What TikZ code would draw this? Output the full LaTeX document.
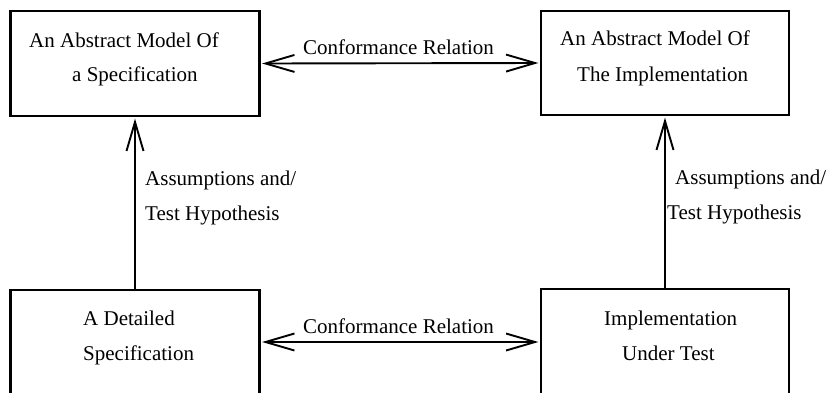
\documentclass[tikz,border=0pt]{standalone}
\usepackage{fontspec}
\setmainfont{Liberation Serif}
\usetikzlibrary{arrows.meta}
\begin{document}
\begin{tikzpicture}[x=1pt,y=-1pt,
  box/.style={draw=black,line width=2.2pt,rectangle,inner sep=0pt},
  txt/.style={anchor=base west,inner sep=0pt,font=\fontsize{21}{25}\selectfont},
  barb/.tip={Straight Barb[length=29pt,width=17pt,line width=1.9pt]},
  rel/.style={line width=1.9pt,shorten <=1.5pt,shorten >=1.5pt,barb-barb},
  up/.style={line width=1.9pt,shorten >=1.5pt,-barb}]
  \clip (0,0) rectangle (829,392);
  \fill[white] (0,0) rectangle (829,392);

  % boxes
  \node[box,minimum width=249pt,minimum height=105pt] (tl) at (135,63.5) {};
  \node[box,minimum width=248pt,minimum height=104pt] (tr) at (665,63) {};
  \node[box,minimum width=249pt,minimum height=104pt] (bl) at (135,342) {};
  \node[box,minimum width=248pt,minimum height=106pt] (br) at (665,342) {};

  % box texts
  \node[txt] (tl1) at (29,47) {An Abstract Model Of};
  \node[txt] (tl2) at (72,81) {a Specification};
  \node[txt] (tr1) at (560,45) {An Abstract Model Of};
  \node[txt] (tr2) at (577,81) {The Implementation};
  \node[txt] (bl1) at (83,325) {A Detailed};
  \node[txt] (bl2) at (83,360) {Specification};
  \node[txt] (br1) at (604,325) {Implementation};
  \node[txt] (br2) at (622,360) {Under Test};

  % connectors
  \draw[rel] (tl.east) -- (tr.west);
  \draw[rel] (bl.east) -- (br.west);
  \draw[up] (bl.north) -- (tl.south);
  \draw[up] (br.north) -- (tr.south);

  % connector labels
  \node[txt] (c1) at (303,54) {Conformance Relation};
  \node[txt] (c2) at (303,333) {Conformance Relation};
  \node[txt] (a1) at (145,185) {Assumptions and/};
  \node[txt] (a2) at (145,220) {Test Hypothesis};
  \node[txt] (a3) at (675,184) {Assumptions and/};
  \node[txt] (a4) at (667,219) {Test Hypothesis};
\end{tikzpicture}
\end{document}
